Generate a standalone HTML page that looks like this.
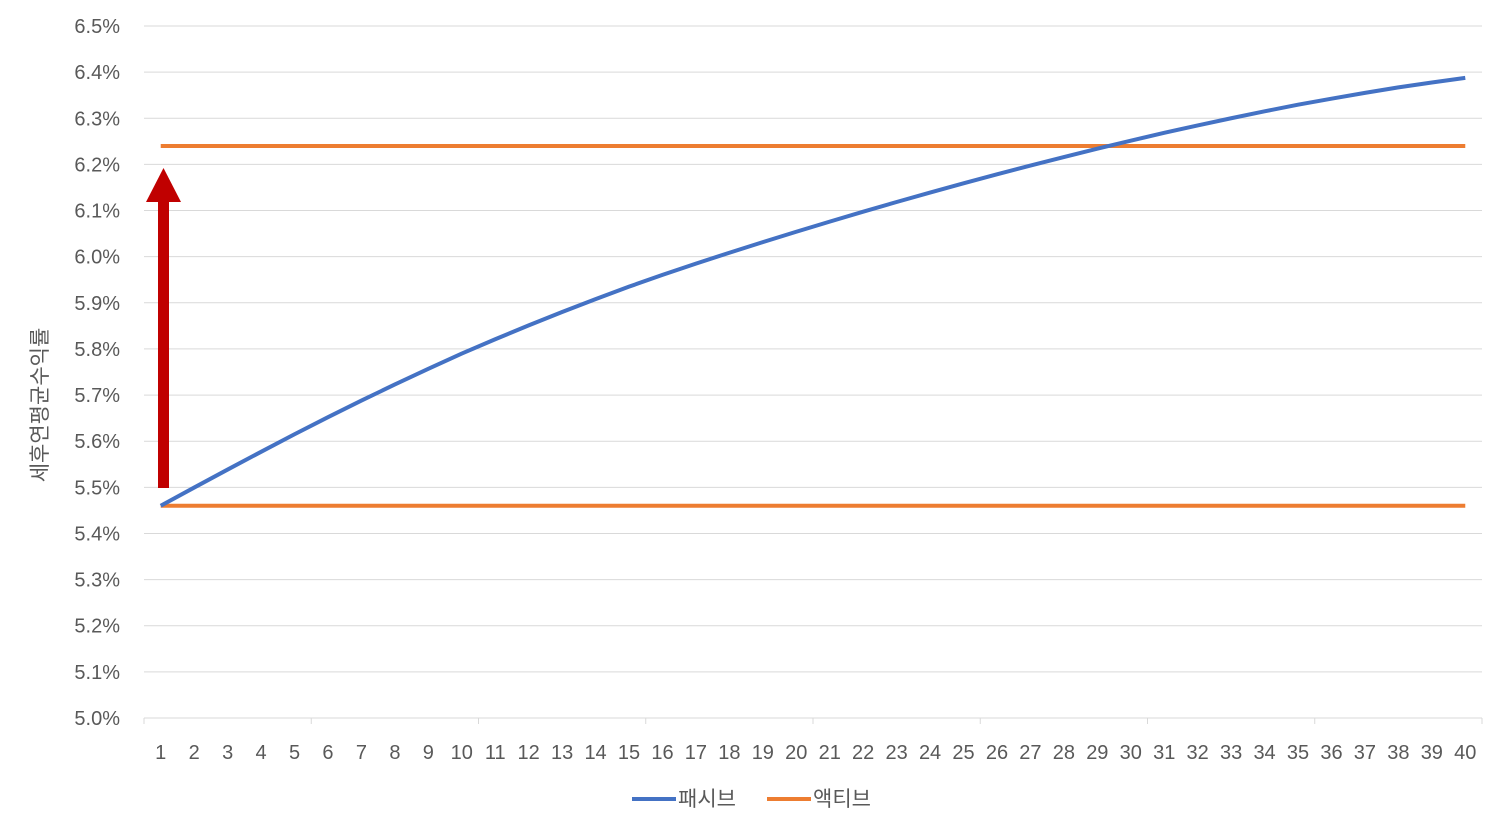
<!DOCTYPE html>
<html><head><meta charset="utf-8">
<style>
html,body{margin:0;padding:0;background:#fff;}
svg text{font-family:"Liberation Sans","Noto Sans CJK KR",sans-serif;fill:#595959;}
</style></head>
<body>
<svg id="chart" width="1506" height="834" xmlns="http://www.w3.org/2000/svg">
<g id="grid"></g><g id="axes"></g><g id="series"></g>
<g>
<rect x="158" y="200" width="11" height="288" fill="#c00000"/>
<polygon points="146,202 181,202 163.5,168" fill="#c00000"/>
</g>
<text transform="translate(47,405) rotate(-90)" text-anchor="middle" font-size="21">세후연평균수익률</text>
<g>
<g>
<line x1="632" y1="799" x2="676" y2="799" stroke="#4472c4" stroke-width="4"/>
<text x="678" y="806" font-size="21">패시브</text></g>
<g>
<line x1="767" y1="799" x2="811" y2="799" stroke="#ed7d31" stroke-width="4"/>
<text x="813" y="806" font-size="21">액티브</text></g>
</g>
</svg>
<script>
const categories=[];for(let i=1;i<=40;i++)categories.push(i);
const passiveValues=[5.460,5.4995,5.5385,5.577,5.615,5.652,5.688,5.723,5.757,5.790,5.821,5.851,5.880,5.908,5.935,5.9605,5.985,6.0085,6.0315,6.054,6.076,6.0975,6.1185,6.139,6.159,6.1785,6.1975,6.216,6.234,6.2515,6.2685,6.2845,6.300,6.315,6.3295,6.3425,6.355,6.367,6.3775,6.3875];
const activeLow=5.46;
const activeHigh=6.24;
const yTicks=[5.0,5.1,5.2,5.3,5.4,5.5,5.6,5.7,5.8,5.9,6.0,6.1,6.2,6.3,6.4,6.5];
const NS='http://www.w3.org/2000/svg';
const L=144,R=1482,T=26,B=718,yMin=5.0,yMax=6.5;
const step=(R-L)/categories.length;
function xS(i){return L+step*(i+0.5);}
function yS(v){return B-(v-yMin)/(yMax-yMin)*(B-T);}
function mk(tag,attrs,parent){const e=document.createElementNS(NS,tag);for(const k in attrs)e.setAttribute(k,attrs[k]);parent.appendChild(e);return e;}
const grid=document.getElementById('grid'),axes=document.getElementById('axes'),ser=document.getElementById('series');
yTicks.forEach(v=>{
 const y=yS(v);
 if(v>yMin){const g=mk('line',{x1:L,x2:R,y1:y,y2:y,stroke:'#d9d9d9','stroke-width':1},grid);
 
 }
 const t=mk('text',{x:120,y:y+7,'text-anchor':'end','font-size':20},axes);
 t.textContent=v.toFixed(1)+'%';
 
 
});
const ax=mk('line',{x1:L,x2:R,y1:B,y2:B,stroke:'#d9d9d9','stroke-width':1},axes);


for(let k=0;k<=categories.length;k+=5){const x=L+step*k;
 const tk=mk('line',{x1:x,x2:x,y1:B,y2:B+6,stroke:'#d9d9d9'},axes);
 
 }
categories.forEach((c,i)=>{const t=mk('text',{x:xS(i),y:759,'text-anchor':'middle','font-size':20},axes);t.textContent=c;
 
 });
[activeLow,activeHigh].forEach(v=>{const l=mk('line',{x1:xS(0),x2:xS(categories.length-1),y1:yS(v),y2:yS(v),stroke:'#ed7d31','stroke-width':4},ser);
 
 });
const p=mk('polyline',{points:passiveValues.map((v,i)=>xS(i)+','+yS(v)).join(' '),fill:'none',stroke:'#4472c4','stroke-width':4,'stroke-linejoin':'round'},ser);


</script>
</body></html>
